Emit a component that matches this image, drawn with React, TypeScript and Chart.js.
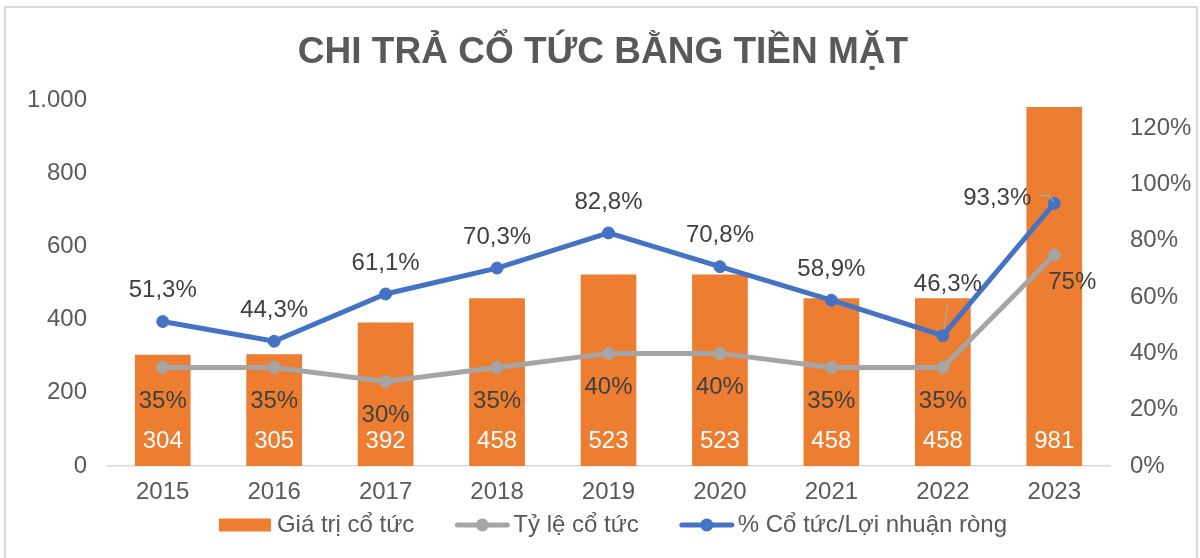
import React, { useEffect, useRef } from "react";
import { Chart, registerables } from "chart.js";

Chart.register(...registerables);

const chartTitle = "CHI TRẢ CỔ TỨC BẰNG TIỀN MẶT";
const years = ["2015", "2016", "2017", "2018", "2019", "2020", "2021", "2022", "2023"];
const dividendValue = [304, 305, 392, 458, 523, 523, 458, 458, 981];
const payoutRate = [0.35, 0.35, 0.3, 0.35, 0.4, 0.4, 0.35, 0.35, 0.75];
const payoutToProfit = [0.513, 0.443, 0.611, 0.703, 0.828, 0.708, 0.589, 0.463, 0.933];
const seriesNames = ["Giá trị cổ tức", "Tỷ lệ cổ tức", "% Cổ tức/Lợi nhuận ròng"];

const FAMILY = '"Liberation Sans", Arial, sans-serif';
const ORANGE = "#ED7D31";
const GRAY = "#A5A5A5";
const BLUE = "#4472C4";
const TICK = "#595959";
const LABEL = "#404040";

const fmtThousands = (v: number) => String(v).replace(/\B(?=(\d{3})+(?!\d))/g, ".");
const fmtPct0 = (v: number) => Math.round(v * 100) + "%";
const fmtPct1 = (v: number) => (v * 100).toFixed(1).replace(".", ",") + "%";

const titlePlugin = {
  id: "customTitle",
  afterDraw(chart: any) {
    const ctx = chart.ctx as CanvasRenderingContext2D;
    ctx.save();
    ctx.font = `bold 37px ${FAMILY}`;
    ctx.fillStyle = "#595959";
    ctx.textBaseline = "alphabetic";
    ctx.textAlign = "center";
    ctx.fillText(chartTitle, 603, 63);
    ctx.restore();
  },
};

const labelsPlugin = {
  id: "dataLabels",
  afterDatasetsDraw(chart: any) {
    const ctx = chart.ctx as CanvasRenderingContext2D;
    ctx.save();
    ctx.font = `24px ${FAMILY}`;
    ctx.textAlign = "center";
    ctx.textBaseline = "middle";
    const y0 = chart.scales.y.getPixelForValue(0);
    // bar values
    ctx.fillStyle = "#ffffff";
    chart.getDatasetMeta(0).data.forEach((el: any, i: number) => {
      ctx.fillText(String(dividendValue[i]), el.x, y0 - 25);
    });
    // gray labels
    ctx.fillStyle = LABEL;
    chart.getDatasetMeta(1).data.forEach((el: any, i: number) => {
      const last = i === payoutRate.length - 1;
      const dx = last ? 18 : 0;
      const dy = last ? 28 : 34;
      ctx.fillText(fmtPct0(payoutRate[i]), el.x + dx, el.y + dy);
    });
    // blue labels
    const bMeta = chart.getDatasetMeta(2).data;
    bMeta.forEach((el: any, i: number) => {
      let dx = 0;
      let dy = -31;
      if (i === 7) {
        dx = 5;
        dy = -51;
      }
      if (i === 8) {
        dx = -57;
        dy = -5;
      }
      ctx.fillText(fmtPct1(payoutToProfit[i]), el.x + dx, el.y + dy);
    });
    // leader lines
    ctx.strokeStyle = "#A6A6A6";
    ctx.lineWidth = 1.2;
    const p7 = bMeta[7];
    ctx.beginPath();
    ctx.moveTo(p7.x + 5, p7.y - 32);
    ctx.lineTo(p7.x + 1, p7.y - 6);
    ctx.stroke();
    const p8 = bMeta[8];
    ctx.beginPath();
    ctx.moveTo(p8.x - 15, p8.y - 8);
    ctx.lineTo(p8.x - 5, p8.y - 8);
    ctx.lineTo(p8.x - 1, p8.y - 2);
    ctx.stroke();
    ctx.restore();
  },
};

const legendPlugin = {
  id: "customLegend",
  afterDraw(chart: any) {
    const ctx = chart.ctx as CanvasRenderingContext2D;
    ctx.save();
    ctx.font = `24px ${FAMILY}`;
    ctx.textBaseline = "middle";
    ctx.textAlign = "left";
    const sym = 54;
    const gap = 4;
    const itemGap = 41;
    const cy = 525;
    const colors = [ORANGE, GRAY, BLUE];
    const widths = seriesNames.map((s) => ctx.measureText(s).width);
    const total = widths.reduce((a, w) => a + sym + gap + w, 0) + itemGap * (seriesNames.length - 1);
    let x = 613 - total / 2;
    seriesNames.forEach((s, i) => {
      if (i === 0) {
        ctx.fillStyle = colors[i];
        ctx.fillRect(x, cy - 6.5, 52, 13);
      } else {
        ctx.strokeStyle = colors[i];
        ctx.fillStyle = colors[i];
        ctx.lineWidth = 5;
        ctx.lineCap = "round";
        ctx.beginPath();
        ctx.moveTo(x + 2, cy);
        ctx.lineTo(x + sym - 2, cy);
        ctx.stroke();
        ctx.beginPath();
        ctx.arc(x + sym / 2, cy, 6.5, 0, Math.PI * 2);
        ctx.fill();
      }
      ctx.fillStyle = TICK;
      ctx.fillText(s, x + sym + gap, cy);
      x += sym + gap + widths[i] + itemGap;
    });
    ctx.restore();
  },
};

export default function App() {
  const ref = useRef<HTMLCanvasElement>(null);

  useEffect(() => {
    const canvas = ref.current;
    if (!canvas) return;
    const tickFont = { family: FAMILY, size: 24 };
    const chart = new Chart(canvas, {
      type: "bar",
      data: {
        labels: years,
        datasets: [
          {
            type: "bar",
            label: seriesNames[0],
            data: dividendValue,
            backgroundColor: ORANGE,
            yAxisID: "y",
            order: 3,
            barPercentage: 0.5,
            categoryPercentage: 1,
          } as any,
          {
            type: "line",
            label: seriesNames[1],
            data: payoutRate,
            borderColor: GRAY,
            backgroundColor: GRAY,
            borderWidth: 5,
            pointRadius: 6,
            pointBorderWidth: 1,
            pointBackgroundColor: GRAY,
            pointBorderColor: GRAY,
            tension: 0,
            yAxisID: "y1",
            order: 2,
          } as any,
          {
            type: "line",
            label: seriesNames[2],
            data: payoutToProfit,
            borderColor: BLUE,
            backgroundColor: BLUE,
            borderWidth: 5,
            pointRadius: 6,
            pointBorderWidth: 1,
            pointBackgroundColor: BLUE,
            pointBorderColor: BLUE,
            tension: 0,
            yAxisID: "y1",
            order: 1,
          } as any,
        ],
      },
      options: {
        responsive: false,
        animation: false,
        devicePixelRatio: 1,
        layout: { padding: { top: 100, bottom: 52, left: 0, right: 0 } },
        plugins: {
          legend: { display: false },
          title: { display: false },
          tooltip: { enabled: false },
        },
        scales: {
          x: {
            grid: { display: false, drawTicks: false },
            border: { display: true, color: "#D9D9D9", width: 1.5 },
            ticks: { color: TICK, font: tickFont, padding: 12 },
            afterFit(s: any) {
              s.height = 40;
            },
          },
          y: {
            position: "left",
            min: 0,
            max: 1000,
            grid: { display: false, drawTicks: false },
            border: { display: false },
            ticks: {
              stepSize: 200,
              color: TICK,
              font: tickFont,
              padding: 20,
              callback: (v: any) => fmtThousands(Number(v)),
            },
            afterFit(s: any) {
              s.width = 107;
            },
          },
          y1: {
            position: "right",
            min: 0,
            max: 1.3,
            grid: { display: false, drawTicks: false },
            border: { display: false },
            ticks: {
              stepSize: 0.2,
              color: TICK,
              font: tickFont,
              padding: 20,
              callback: (v: any) => fmtPct0(Number(v)),
            },
            afterBuildTicks(s: any) {
              s.ticks = s.ticks.filter((t: any) => t.value <= 1.2001);
            },
            afterFit(s: any) {
              s.width = 90;
            },
          },
        } as any,
      },
      plugins: [titlePlugin, labelsPlugin, legendPlugin],
    });
    return () => chart.destroy();
  }, []);

  return (
    <div
      style={{
        position: "fixed",
        left: 0,
        top: 0,
        width: 1200,
        height: 558,
        background: "#ffffff",
        overflow: "hidden",
      }}
    >
      <canvas ref={ref} width={1200} height={558} style={{ display: "block" }} />
      <div
        style={{
          position: "absolute",
          left: 4,
          top: 6,
          width: 1194,
          height: 600,
          border: "2px solid #D9D9D9",
          boxSizing: "border-box",
          pointerEvents: "none",
        }}
      />
    </div>
  );
}
